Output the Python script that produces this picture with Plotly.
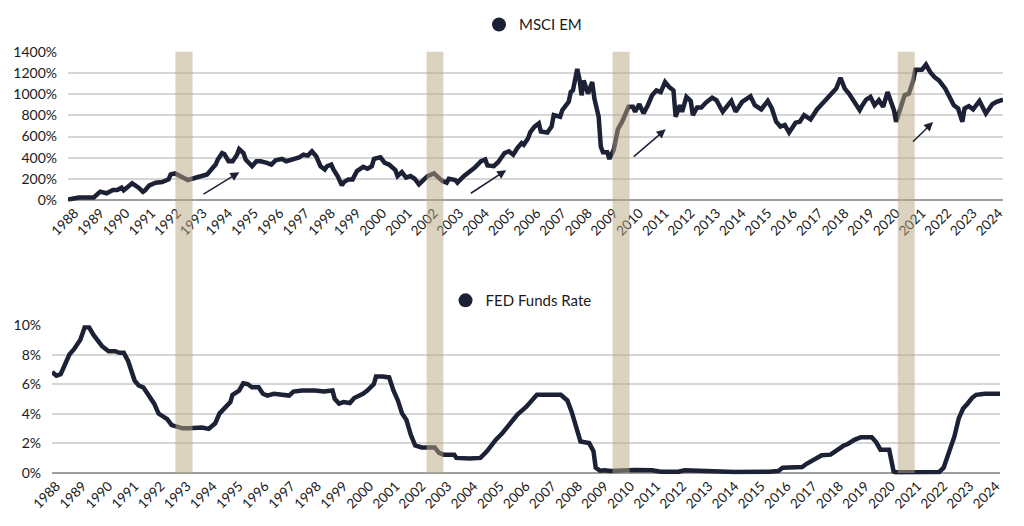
import plotly.graph_objects as go
from plotly.subplots import make_subplots

# MSCI EM cumulative return (%)
msci_dates = ["1987-10", "1988-03", "1988-10", "1988-11", "1989-01", "1989-04", "1989-07", "1989-09", "1989-11", "1989-12",
              "1990-04", "1990-07", "1990-09", "1990-10", "1990-12", "1991-03", "1991-06", "1991-09", "1991-10", "1991-12",
              "1992-02", "1992-06", "1992-08", "1992-11", "1993-03", "1993-05", "1993-07", "1993-08", "1993-10", "1993-11",
              "1994-01", "1994-03", "1994-05", "1994-06", "1994-08", "1994-09", "1994-12", "1995-02", "1995-04", "1995-07",
              "1995-09", "1995-11", "1996-02", "1996-04", "1996-07", "1996-10", "1996-12", "1997-02", "1997-04", "1997-06",
              "1997-08", "1997-10", "1997-11", "1998-01", "1998-02", "1998-04", "1998-06", "1998-07", "1998-09", "1998-11",
              "1999-01", "1999-04", "1999-06", "1999-08", "1999-09", "1999-12", "2000-02", "2000-04", "2000-07", "2000-08",
              "2000-10", "2000-12", "2001-02", "2001-04", "2001-06", "2001-08", "2001-10", "2002-01", "2002-03", "2002-05",
              "2002-07", "2002-08", "2002-11", "2002-12", "2003-03", "2003-08", "2003-11", "2004-01", "2004-02", "2004-05",
              "2004-07", "2004-10", "2004-12", "2005-02", "2005-04", "2005-06", "2005-07", "2005-09", "2005-10", "2005-12",
              "2006-02", "2006-03", "2006-06", "2006-08", "2006-09", "2006-12", "2007-01", "2007-04", "2007-05", "2007-06",
              "2007-08", "2007-09", "2007-10", "2007-11", "2008-01", "2008-03", "2008-04", "2008-06", "2008-07", "2008-08",
              "2008-10", "2008-11", "2009-01", "2009-02", "2009-03", "2009-05", "2009-07", "2009-08", "2009-10", "2009-11",
              "2010-01", "2010-03", "2010-05", "2010-07", "2010-09", "2010-11", "2011-01", "2011-03", "2011-05", "2011-06",
              "2011-08", "2011-09", "2011-11", "2012-01", "2012-02", "2012-04", "2012-06", "2012-08", "2012-11", "2013-01",
              "2013-04", "2013-06", "2013-08", "2013-10", "2014-01", "2014-05", "2014-07", "2014-10", "2015-01", "2015-03",
              "2015-05", "2015-07", "2015-09", "2015-11", "2016-02", "2016-04", "2016-06", "2016-09", "2016-12", "2017-04",
              "2017-07", "2017-09", "2017-11", "2018-01", "2018-03", "2018-05", "2018-08", "2018-09", "2018-11", "2019-01",
              "2019-03", "2019-05", "2019-07", "2019-09", "2019-12", "2020-01", "2020-03", "2020-05", "2020-07", "2020-09",
              "2020-10", "2021-01", "2021-03", "2021-05", "2021-07", "2021-09", "2021-12", "2022-02", "2022-04", "2022-06",
              "2022-08", "2022-09", "2022-11", "2023-01", "2023-04", "2023-07", "2023-10", "2023-12", "2024-02", "2024-03"]
msci_values = [5, 25, 25, 40, 80, 65, 96, 96, 118, 93,
               159, 118, 78, 93, 140, 165, 171, 196, 243, 252,
               227, 190, 202, 218, 243, 289, 336, 383, 445, 436,
               367, 367, 429, 482, 445, 383, 320, 367, 367, 352,
               336, 376, 389, 367, 383, 404, 429, 420, 460, 414,
               320, 289, 320, 336, 289, 227, 140, 171, 196, 196,
               274, 314, 296, 320, 389, 404, 352, 336, 283, 227,
               264, 212, 227, 202, 149, 196, 227, 252, 221, 180,
               165, 202, 190, 165, 227, 305, 367, 383, 327, 320,
               358, 445, 460, 429, 492, 538, 523, 585, 640, 694,
               725, 647, 638, 694, 803, 787, 849, 927, 1020, 1036,
               1238, 1145, 989, 1129, 1005, 1114, 958, 787, 507, 451,
               451, 389, 476, 585, 669, 740, 834, 880, 880, 834,
               905, 818, 896, 989, 1036, 1020, 1114, 1067, 1036, 787,
               896, 834, 974, 936, 803, 874, 874, 918, 967, 943,
               834, 880, 936, 834, 927, 980, 896, 856, 936, 865,
               740, 694, 709, 638, 731, 740, 803, 762, 856, 943,
               1005, 1052, 1154, 1052, 1005, 949, 849, 887, 949, 974,
               896, 943, 880, 1020, 849, 740, 865, 989, 1005, 1129,
               1229, 1229, 1279, 1207, 1160, 1129, 1052, 974, 896, 865,
               740, 865, 887, 856, 936, 818, 905, 927, 949, 949]

# FED Funds Rate (%)
fed_dates = ["1987-11", "1988-01", "1988-03", "1988-05", "1988-07", "1988-09", "1988-12", "1989-02", "1989-04", "1989-06",
             "1989-08", "1989-10", "1990-01", "1990-04", "1990-06", "1990-08", "1990-10", "1990-12", "1991-01", "1991-03",
             "1991-05", "1991-07", "1991-10", "1991-12", "1992-02", "1992-04", "1992-06", "1992-08", "1992-11", "1993-02",
             "1993-05", "1993-08", "1993-11", "1994-02", "1994-04", "1994-06", "1994-09", "1994-10", "1995-01", "1995-03",
             "1995-05", "1995-07", "1995-10", "1995-12", "1996-02", "1996-05", "1996-09", "1996-12", "1997-02", "1997-06",
             "1997-12", "1998-04", "1998-08", "1998-09", "1998-11", "1999-01", "1999-04", "1999-06", "1999-10", "1999-12",
             "2000-03", "2000-04", "2000-07", "2000-10", "2000-12", "2001-02", "2001-04", "2001-06", "2001-08", "2001-10",
             "2002-01", "2002-07", "2002-09", "2002-11", "2003-04", "2003-05", "2003-11", "2004-04", "2004-07", "2004-11",
             "2005-02", "2005-06", "2005-09", "2006-01", "2006-04", "2006-06", "2007-05", "2007-08", "2007-10", "2007-12",
             "2008-02", "2008-06", "2008-08", "2008-09", "2008-11", "2009-01", "2009-04", "2010-03", "2010-11", "2011-03",
             "2011-11", "2012-02", "2013-01", "2013-06", "2014-01", "2015-05", "2015-09", "2015-11", "2016-08", "2016-10",
             "2017-02", "2017-05", "2017-09", "2017-11", "2018-03", "2018-05", "2018-08", "2018-11", "2019-04", "2019-06",
             "2019-08", "2019-12", "2020-02", "2020-03", "2021-02", "2021-11", "2022-01", "2022-03", "2022-06", "2022-08",
             "2022-10", "2022-12", "2023-02", "2023-04", "2023-08", "2024-03"]
fed_values = [6.84, 6.58, 6.69, 7.36, 8.02, 8.36, 9.02, 9.87, 9.87, 9.36,
              9.02, 8.58, 8.24, 8.24, 8.13, 8.13, 7.58, 6.8, 6.24, 5.91,
              5.8, 5.36, 4.69, 4.02, 3.8, 3.64, 3.24, 3.13, 3.02, 3.02,
              3.02, 3.07, 2.98, 3.36, 4.02, 4.36, 4.8, 5.29, 5.58, 6.07,
              6.02, 5.8, 5.8, 5.36, 5.24, 5.36, 5.29, 5.24, 5.51, 5.58,
              5.58, 5.51, 5.58, 5.02, 4.69, 4.8, 4.73, 5.07, 5.36, 5.58,
              6.02, 6.53, 6.53, 6.47, 5.58, 4.91, 4.02, 3.58, 2.58, 1.87,
              1.73, 1.73, 1.36, 1.24, 1.24, 1.02, 0.98, 1.02, 1.47, 2.24,
              2.69, 3.36, 3.95, 4.47, 4.91, 5.29, 5.29, 4.91, 4.13, 3.02,
              2.13, 2.02, 1.47, 0.36, 0.15, 0.18, 0.13, 0.2, 0.18, 0.09,
              0.09, 0.18, 0.13, 0.07, 0.07, 0.09, 0.13, 0.36, 0.4, 0.62,
              0.91, 1.2, 1.24, 1.47, 1.84, 1.96, 2.24, 2.42, 2.42, 2.09,
              1.58, 1.58, 0.1, 0.05, 0.07, 0.07, 0.36, 1.24, 2.47, 3.69,
              4.36, 4.69, 5.07, 5.29, 5.36, 5.36]

# shaded periods (dates on the top axis)
band_starts = ["1991-12-07", "2001-09-18", "2008-12-15", "2020-01-25"]
band_ends = ["1992-08-07", "2002-05-15", "2009-08-15", "2020-09-22"]

# arrows on the MSCI panel: tail -> head
arrow_tail_x = ["1992-12-20", "2003-05-20", "2009-09-22", "2020-08-06"]
arrow_tail_y = [49, 56, 398, 538]
arrow_head_x = ["1994-06-04", "2004-10-25", "2011-01-10", "2021-06-10"]
arrow_head_y = [264, 283, 668, 737]

navy = "#1c2136"
font = "Lato"

fig = make_subplots(rows=2, cols=1)

fig.add_trace(go.Scatter(x=msci_dates, y=msci_values, mode="lines",
                         line=dict(color=navy, width=4.5), showlegend=False), row=1, col=1)
fig.add_trace(go.Scatter(x=fed_dates, y=fed_values, mode="lines",
                         line=dict(color=navy, width=4.5), showlegend=False), row=2, col=1)
# legend entries (circle symbols)
fig.add_trace(go.Scatter(x=[None], y=[None], mode="markers", name="MSCI EM",
                         marker=dict(color=navy, size=14), legend="legend"), row=1, col=1)
fig.add_trace(go.Scatter(x=[None], y=[None], mode="markers", name="FED Funds Rate",
                         marker=dict(color=navy, size=14), legend="legend2"), row=2, col=1)

xcommon = dict(type="date", tickformat="%Y", dtick="M12", tick0="1988-01-01", tickangle=-45,
               showgrid=False, showline=False, zeroline=False, ticks="", automargin=False,
               tickfont=dict(family=font, size=13.5, color="#1a1a1a"))
ycommon = dict(showgrid=True, gridcolor="#d6d6d6", gridwidth=1.5, zeroline=True,
               zerolinecolor="#9e9e9e", zerolinewidth=2, ticksuffix="%", automargin=False,
               ticklabelstandoff=10, tickfont=dict(family=font, size=14, color="#1a1a1a"))

fig.update_xaxes(xcommon, row=1, col=1)
fig.update_xaxes(xcommon, row=2, col=1)
fig.update_yaxes(ycommon, row=1, col=1)
fig.update_yaxes(ycommon, row=2, col=1)

fig.update_layout(
    xaxis=dict(domain=[0.0586, 0.9717], range=["1987-10-01", "2024-03-01"]),
    yaxis=dict(domain=[0.6414, 0.9310], range=[-15, 1400], dtick=200),
    xaxis2=dict(domain=[0.0430, 0.9688], range=["1987-11-01", "2024-03-01"]),
    yaxis2=dict(domain=[0.1144, 0.4030], range=[-0.12, 10], dtick=2),
    width=1024, height=526,
    margin=dict(l=0, r=0, t=0, b=0),
    paper_bgcolor="white", plot_bgcolor="white",
    legend=dict(x=0.5127, y=0.983, xanchor="center", yanchor="middle", orientation="h",
                font=dict(family=font, size=15, color="#1a1a1a"), itemwidth=30),
    legend2=dict(x=0.501, y=0.4506, xanchor="center", yanchor="middle", orientation="h",
                 font=dict(family=font, size=15, color="#1a1a1a"), itemwidth=30),
)

for s, e in zip(band_starts, band_ends):
    fig.add_shape(type="rect", xref="x", yref="paper", x0=s, x1=e, y0=0.1179, y1=0.9310,
                  fillcolor="#b8a582", opacity=0.5, line_width=0, layer="above")

for tx, ty, hx, hy in zip(arrow_tail_x, arrow_tail_y, arrow_head_x, arrow_head_y):
    fig.add_annotation(x=hx, y=hy, ax=tx, ay=ty, xref="x", yref="y", axref="x", ayref="y",
                       text="", showarrow=True, arrowhead=2, arrowsize=1.2, arrowwidth=1.5,
                       arrowcolor=navy)

fig.write_html("out.html")
